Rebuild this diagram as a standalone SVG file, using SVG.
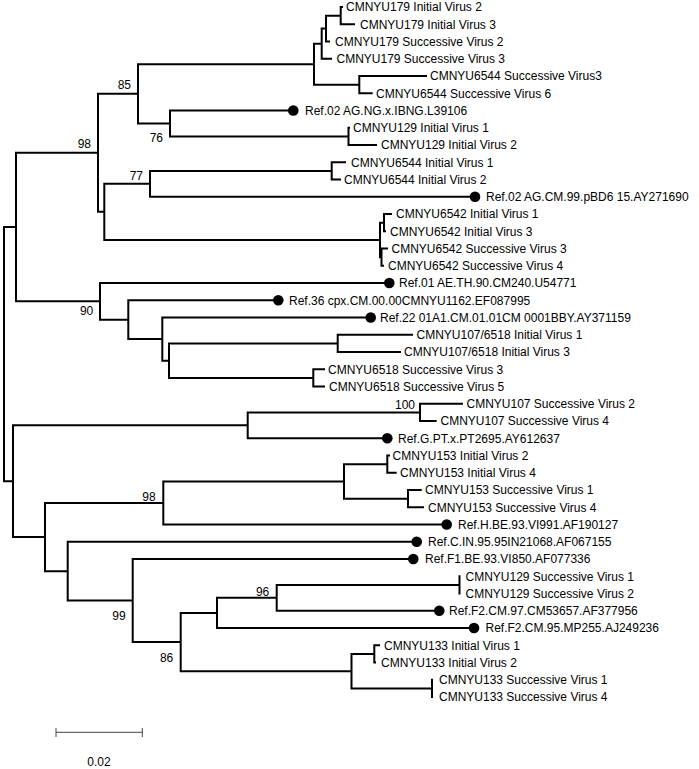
<svg xmlns="http://www.w3.org/2000/svg" width="699" height="769" viewBox="0 0 699 769">
<style>
.br{fill:none;stroke:#000;stroke-width:2;stroke-linejoin:miter}
text{font-family:"Liberation Sans",Arial,sans-serif;font-size:12px;fill:#000}
.bs{text-anchor:end}
.dot{fill:#000}
</style>
<rect width="699" height="769" fill="#fff"/>
<g id="connectors" class="br">
<path d="M16 227.07H4V481.17H13"/>
<path d="M98 152.82H16V301.33H100"/>
<path d="M138 93.79H98V211.84H104.3"/>
<path d="M314 64.14H138V123.44H170"/>
<path d="M321.7 43.66H314V84.63H359.3"/>
<path d="M326 28.56H321.7V58.75H332"/>
<path d="M340.7 15.63H326V41.5H330"/>
<path d="M343 7H340.7V24.25H355"/>
<path d="M427 76H359.3V93.25H372.7"/>
<path d="M293.3 110.5H170V136.38H348.5"/>
<path d="M350 127.75H348.5V145H377"/>
<path d="M150 183.81H104.3V239.88H380"/>
<path d="M331.7 170.88H150V196.75H475"/>
<path d="M346 162.25H331.7V179.5H341"/>
<path d="M384 222.63H380V257.13H381.5"/>
<path d="M392 214H384V231.25H386"/>
<path d="M388 248.5H381.5V265.75H384"/>
<path d="M389.3 283H100V319.66H128.3"/>
<path d="M278.3 300.25H128.3V339.06H162.3"/>
<path d="M370.7 317.5H162.3V360.63H169"/>
<path d="M337.7 343.38H169V377.88H313.3"/>
<path d="M413 334.75H337.7V352H401"/>
<path d="M325 369.25H313.3V386.5H325"/>
<path d="M247.7 425.31H13V537.04H45"/>
<path d="M420 412.38H247.7V438.25H387.3"/>
<path d="M463 403.75H420V421H436.7"/>
<path d="M163.3 502.94H45V571.13H67.7"/>
<path d="M344 481.38H163.3V524.5H446.7"/>
<path d="M387.3 464.13H344V498.63H408"/>
<path d="M390 455.5H387.3V472.75H396.7"/>
<path d="M421.7 490H408V507.25H424"/>
<path d="M416.7 541.75H67.7V600.51H132.7"/>
<path d="M413.3 559H132.7V642.02H180.7"/>
<path d="M217 612.91H180.7V671.13H351.5"/>
<path d="M276.7 597.81H217V628H474"/>
<path d="M459.5 584.88H276.7V610.75H439.3"/>
<path d="M460.5 576.25H459.5V593.5H460.5"/>
<path d="M374.3 653.88H351.5V688.38H432"/>
<path d="M380 645.25H374.3V662.5H376"/>
<path d="M433 679.75H432V697H433"/>
</g>
<g id="bootstrap">
<text class="bs" x="131" y="89.3">85</text>
<text class="bs" x="91" y="148.3">98</text>
<text class="bs" x="163" y="141.7">76</text>
<text class="bs" x="143" y="180">77</text>
<text class="bs" x="93.3" y="314.7">90</text>
<text class="bs" x="415" y="409.3">100</text>
<text class="bs" x="155.7" y="501">98</text>
<text class="bs" x="125.7" y="620">99</text>
<text class="bs" x="269.3" y="596">96</text>
<text class="bs" x="173.3" y="661.7">86</text>
</g>
<g id="leaf1"><text x="346" y="11.4">CMNYU179 Initial Virus 2</text></g>
<g id="leaf2"><text x="360" y="28.65">CMNYU179 Initial Virus 3</text></g>
<g id="leaf3"><text x="335" y="45.9">CMNYU179 Successive Virus 2</text></g>
<g id="leaf4"><text x="336.5" y="63.15">CMNYU179 Successive Virus 3</text></g>
<g id="leaf5"><text x="430" y="80.4">CMNYU6544 Successive Virus3</text></g>
<g id="leaf6"><text x="376" y="97.65">CMNYU6544 Successive Virus 6</text></g>
<g id="leaf7"><circle class="dot" cx="293.3" cy="110.5" r="5.3"/><text x="305" y="114.9">Ref.02 AG.NG.x.IBNG.L39106</text></g>
<g id="leaf8"><text x="353" y="132.15">CMNYU129 Initial Virus 1</text></g>
<g id="leaf9"><text x="381" y="149.4">CMNYU129 Initial Virus 2</text></g>
<g id="leaf10"><text x="351" y="166.65">CMNYU6544 Initial Virus 1</text></g>
<g id="leaf11"><text x="344" y="183.9">CMNYU6544 Initial Virus 2</text></g>
<g id="leaf12"><circle class="dot" cx="475" cy="196.75" r="5.3"/><text x="486" y="201.15">Ref.02 AG.CM.99.pBD6 15.AY271690</text></g>
<g id="leaf13"><text x="396" y="218.4">CMNYU6542 Initial Virus 1</text></g>
<g id="leaf14"><text x="390" y="235.65">CMNYU6542 Initial Virus 3</text></g>
<g id="leaf15"><text x="391.5" y="252.9">CMNYU6542 Successive Virus 3</text></g>
<g id="leaf16"><text x="388" y="270.15">CMNYU6542 Successive Virus 4</text></g>
<g id="leaf17"><circle class="dot" cx="389.3" cy="283" r="5.3"/><text x="399" y="287.4">Ref.01 AE.TH.90.CM240.U54771</text></g>
<g id="leaf18"><circle class="dot" cx="278.3" cy="300.25" r="5.3"/><text x="289" y="304.65">Ref.36 cpx.CM.00.00CMNYU1162.EF087995</text></g>
<g id="leaf19"><circle class="dot" cx="370.7" cy="317.5" r="5.3"/><text x="380" y="321.9">Ref.22 01A1.CM.01.01CM 0001BBY.AY371159</text></g>
<g id="leaf20"><text x="416.5" y="339.15">CMNYU107/6518 Initial Virus 1</text></g>
<g id="leaf21"><text x="404" y="356.4">CMNYU107/6518 Initial Virus 3</text></g>
<g id="leaf22"><text x="328" y="373.65">CMNYU6518 Successive Virus 3</text></g>
<g id="leaf23"><text x="329" y="390.9">CMNYU6518 Successive Virus 5</text></g>
<g id="leaf24"><text x="466.5" y="408.15">CMNYU107 Successive Virus 2</text></g>
<g id="leaf25"><text x="440.5" y="425.4">CMNYU107 Successive Virus 4</text></g>
<g id="leaf26"><circle class="dot" cx="387.3" cy="438.25" r="5.3"/><text x="398" y="442.65">Ref.G.PT.x.PT2695.AY612637</text></g>
<g id="leaf27"><text x="392.5" y="459.9">CMNYU153 Initial Virus 2</text></g>
<g id="leaf28"><text x="400" y="477.15">CMNYU153 Initial Virus 4</text></g>
<g id="leaf29"><text x="425" y="494.4">CMNYU153 Successive Virus 1</text></g>
<g id="leaf30"><text x="428" y="511.65">CMNYU153 Successive Virus 4</text></g>
<g id="leaf31"><circle class="dot" cx="446.7" cy="524.5" r="5.3"/><text x="458" y="528.9">Ref.H.BE.93.VI991.AF190127</text></g>
<g id="leaf32"><circle class="dot" cx="416.7" cy="541.75" r="5.3"/><text x="428" y="546.15">Ref.C.IN.95.95IN21068.AF067155</text></g>
<g id="leaf33"><circle class="dot" cx="413.3" cy="559" r="5.3"/><text x="425" y="563.4">Ref.F1.BE.93.VI850.AF077336</text></g>
<g id="leaf34"><text x="465.5" y="580.65">CMNYU129 Successive Virus 1</text></g>
<g id="leaf35"><text x="465.5" y="597.9">CMNYU129 Successive Virus 2</text></g>
<g id="leaf36"><circle class="dot" cx="439.3" cy="610.75" r="5.3"/><text x="449" y="615.15">Ref.F2.CM.97.CM53657.AF377956</text></g>
<g id="leaf37"><circle class="dot" cx="474" cy="628" r="5.3"/><text x="485.5" y="632.4">Ref.F2.CM.95.MP255.AJ249236</text></g>
<g id="leaf38"><text x="384" y="649.65">CMNYU133 Initial Virus 1</text></g>
<g id="leaf39"><text x="381" y="666.9">CMNYU133 Initial Virus 2</text></g>
<g id="leaf40"><text x="439" y="684.15">CMNYU133 Successive Virus 1</text></g>
<g id="leaf41"><text x="439" y="701.4">CMNYU133 Successive Virus 4</text></g>
<g id="scalebar">
<path d="M56 732.3H142.3M56 728V737M142.3 728V737" fill="none" stroke="#444" stroke-width="1"/>
<text x="99" y="766" text-anchor="middle">0.02</text>
</g>
</svg>
